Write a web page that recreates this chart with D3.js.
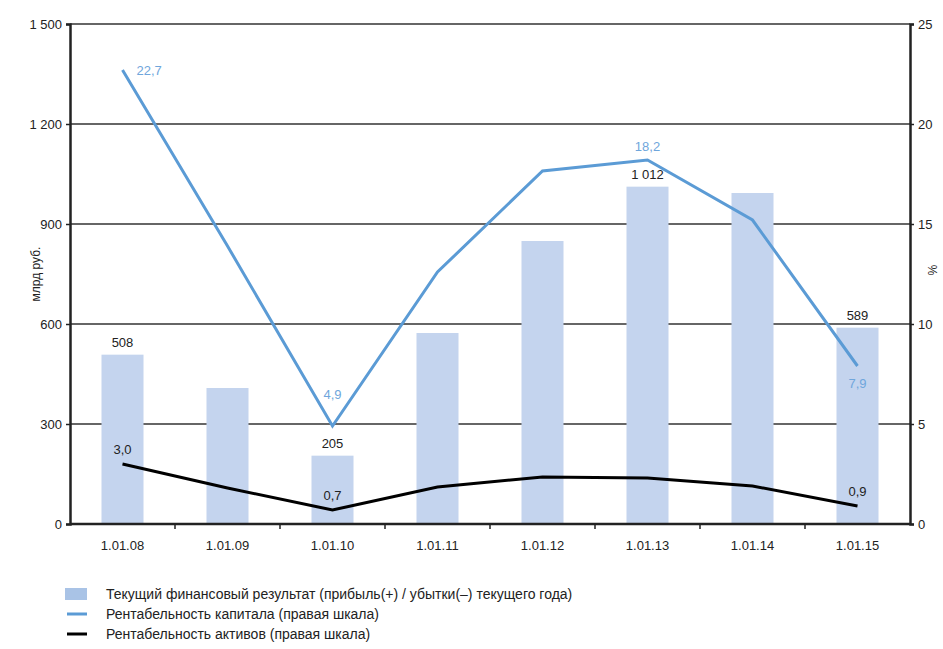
<!DOCTYPE html>
<html lang="ru">
<head>
  <meta charset="UTF-8">
  <title></title>
  <script src="https://d3js.org/d3.v7.min.js"></script>
  <style>
    html, body { margin: 0; padding: 0; background: #fff; overflow: hidden; }
    svg { display: block; }
    svg text { font-family: "Liberation Sans", Arial, sans-serif; }
  </style>
</head>
<body>
  <svg width="943" height="649"></svg>
  <script>
    const dates = ["1.01.08", "1.01.09", "1.01.10", "1.01.11", "1.01.12", "1.01.13", "1.01.14", "1.01.15"];
    const profit = [508, 408, 205, 573, 849, 1012, 993, 589];
    const roe = [22.7, 13.9, 4.9, 12.6, 17.65, 18.2, 15.2, 7.9];
    const roa = [3.0, 1.8, 0.7, 1.85, 2.35, 2.3, 1.9, 0.9];
    const leftTicks = [0, 300, 600, 900, 1200, 1500];
    const rightTicks = [0, 5, 10, 15, 20, 25];
    const profitLabels = {0: "508", 2: "205", 5: "1 012", 7: "589"};
    const roeLabels = {0: "22,7", 2: "4,9", 5: "18,2", 7: "7,9"};
    const roaLabels = {0: "3,0", 2: "0,7", 7: "0,9"};
    const legendItems = [
      {type: "bar", text: "Текущий финансовый результат (прибыль(+) / убытки(–) текущего года)"},
      {type: "roe", text: "Рентабельность капитала (правая шкала)"},
      {type: "roa", text: "Рентабельность активов (правая шкала)"}
    ];

    const barColor = "#c4d4ee";
    const roeColor = "#5b9bd5";
    const roeText = "#6fa6dc";

    const svg = d3.select("svg");
    const margin = {top: 24, right: 33, bottom: 125, left: 70};
    const innerWidth = 943 - margin.left - margin.right;
    const innerHeight = 649 - margin.top - margin.bottom;
    const g = svg.append("g").attr("transform", `translate(${margin.left},${margin.top})`);

    const x = d3.scaleBand().domain(dates).range([0, innerWidth]).paddingInner(0.6).paddingOuter(0.3);
    const xc = d => x(d) + x.bandwidth() / 2;
    const yL = d3.scaleLinear().domain([0, 1500]).range([innerHeight, 0]);
    const yR = d3.scaleLinear().domain([0, 25]).range([innerHeight, 0]);

    // gridlines
    g.append("g").selectAll("line").data(leftTicks.slice(1)).join("line")
      .attr("x1", 0).attr("x2", innerWidth)
      .attr("y1", d => yL(d)).attr("y2", d => yL(d))
      .attr("stroke", "#333").attr("stroke-width", 1.5);

    // bars
    g.append("g").selectAll("rect").data(profit).join("rect")
      .attr("x", (d, i) => x(dates[i]))
      .attr("width", x.bandwidth())
      .attr("y", d => yL(d))
      .attr("height", d => innerHeight - yL(d))
      .attr("fill", barColor);

    // axes
    const fmt = d => d3.format(",")(d).replace(/,/g, " ");
    const left = g.append("g").call(d3.axisLeft(yL).tickValues(leftTicks).tickFormat(fmt).tickSize(4).tickPadding(4));
    const right = g.append("g").attr("transform", `translate(${innerWidth},0)`)
      .call(d3.axisRight(yR).tickValues(rightTicks).tickSize(4).tickPadding(4));
    [left, right].forEach(a => {
      a.attr("font-family", null).attr("font-size", 13);
      a.select(".domain").attr("stroke", "#222").attr("stroke-width", 2.5);
      a.selectAll(".tick line").attr("stroke", "#222").attr("stroke-width", 1.5);
      a.selectAll("text").attr("font-size", 13).attr("fill", "#222");
    });

    const bottom = g.append("g").attr("transform", `translate(0,${innerHeight})`);
    bottom.append("line").attr("x1", 0).attr("x2", innerWidth)
      .attr("stroke", "#222").attr("stroke-width", 2.5);
    bottom.selectAll("line.tk").data(dates.slice(1)).join("line").attr("class", "tk")
      .attr("x1", d => x(d) - x.step() * x.paddingInner() / 2)
      .attr("x2", d => x(d) - x.step() * x.paddingInner() / 2)
      .attr("y1", 0).attr("y2", 5).attr("stroke", "#222").attr("stroke-width", 1.5);
    bottom.selectAll("text").data(dates).join("text")
      .attr("x", d => xc(d)).attr("y", 26).attr("text-anchor", "middle")
      .attr("font-size", 13).attr("fill", "#222").text(d => d);

    // lines
    const line = d3.line().x((d, i) => xc(dates[i])).y(d => yR(d));
    g.append("path").datum(roe).attr("fill", "none").attr("stroke", roeColor)
      .attr("stroke-width", 3).attr("d", line);
    g.append("path").datum(roa).attr("fill", "none").attr("stroke", "#000")
      .attr("stroke-width", 3).attr("d", line);

    // value labels
    Object.entries(profitLabels).forEach(([i, t]) => {
      g.append("text").attr("x", xc(dates[i])).attr("y", yL(profit[i]) - 8)
        .attr("text-anchor", "middle").attr("font-size", 13).attr("fill", "#222").text(t);
    });
    Object.entries(roeLabels).forEach(([i, t]) => {
      const lab = g.append("text").attr("font-size", 13).attr("fill", roeText).text(t);
      if (+i === 0) lab.attr("x", xc(dates[i]) + 14).attr("y", yR(roe[i]) + 5);
      else if (+i === 7) lab.attr("x", xc(dates[i])).attr("y", yR(roe[i]) + 22).attr("text-anchor", "middle");
      else if (+i === 2) lab.attr("x", xc(dates[i])).attr("y", yR(roe[i]) - 27).attr("text-anchor", "middle");
      else lab.attr("x", xc(dates[i])).attr("y", yR(roe[i]) - 9).attr("text-anchor", "middle");
    });
    Object.entries(roaLabels).forEach(([i, t]) => {
      g.append("text").attr("x", xc(dates[i])).attr("y", yR(roa[i]) - 10)
        .attr("text-anchor", "middle").attr("font-size", 13).attr("fill", "#222").text(t);
    });

    // axis titles
    svg.append("text").attr("transform", `translate(40,${margin.top + innerHeight / 2}) rotate(-90)`)
      .attr("text-anchor", "middle").attr("font-size", 12).attr("fill", "#222").text("млрд руб.");
    svg.append("text").attr("transform", `translate(928,${margin.top + innerHeight / 2 - 4}) rotate(90)`)
      .attr("text-anchor", "middle").attr("font-size", 12).attr("fill", "#222").text("%");

    // legend
    const lg = svg.append("g").attr("transform", "translate(65,594)");
    legendItems.forEach((d, i) => {
      const row = lg.append("g").attr("transform", `translate(0,${i * 20})`);
      if (d.type === "bar") row.append("rect").attr("x", 0).attr("y", -6).attr("width", 22).attr("height", 12).attr("fill", "#a9c3e6");
      else row.append("line").attr("x1", 2).attr("x2", 22).attr("y1", 0).attr("y2", 0)
        .attr("stroke", d.type === "roe" ? roeColor : "#000").attr("stroke-width", 3);
      row.append("text").attr("x", 41).attr("y", 5).attr("font-size", 14).attr("fill", "#222").text(d.text);
    });
  </script>
</body>
</html>
